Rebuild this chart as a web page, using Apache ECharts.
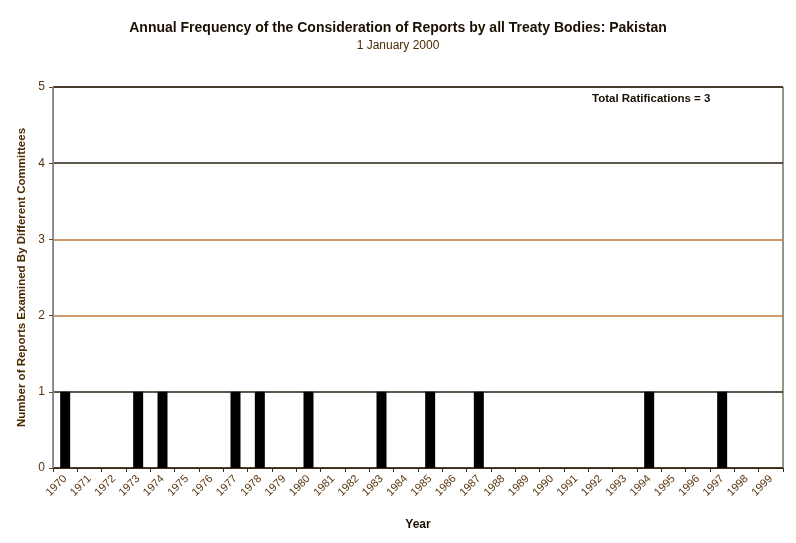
<!DOCTYPE html>
<html>
<head>
<meta charset="utf-8">
<script src="https://cdn.jsdelivr.net/npm/echarts@6/dist/echarts.min.js"></script>
<style>
html,body{margin:0;padding:0;background:#fff;}
#chart{width:796px;height:543px;}
</style>
</head>
<body>
<div id="chart"></div>
<script>
const years = ['1970','1971','1972','1973','1974','1975','1976','1977','1978','1979',
  '1980','1981','1982','1983','1984','1985','1986','1987','1988','1989',
  '1990','1991','1992','1993','1994','1995','1996','1997','1998','1999'];
const reports = [1,0,0,1,1,0,0,1,1,0,
  1,0,0,1,0,1,0,1,0,0,
  0,0,0,0,1,0,0,1,0,0];
const titleText = 'Annual Frequency of the Consideration of Reports by all Treaty Bodies: Pakistan';
const subtitleText = '1 January 2000';
const noteText = 'Total Ratifications = 3';
const yName = 'Number of Reports Examined By Different Committees';
const xName = 'Year';

const chart = echarts.init(document.getElementById('chart'));
const font = 'Arial, "Liberation Sans", sans-serif';
const dark = '#2a2010';
const tan = '#c0783a';
chart.setOption({
  animation: false,
  backgroundColor: '#ffffff',
  title: {
    text: titleText,
    subtext: subtitleText,
    left: 'center',
    top: 16,
    itemGap: 5,
    textStyle: {fontFamily: font, fontSize: 14, fontWeight: 'bold', color: '#1a0f00'},
    subtextStyle: {fontFamily: font, fontSize: 12, color: '#4a2a00'}
  },
  graphic: [{
    type: 'text',
    left: 592,
    top: 93,
    style: {text: noteText, fontFamily: font, fontSize: 11.5, fontWeight: 'bold', fill: '#1a0f00'}
  }],
  grid: {left: 53, right: 13, top: 87, bottom: 75, show: true, borderColor: '#3a2a10', borderWidth: 1},
  xAxis: {
    type: 'category',
    data: years,
    name: xName,
    nameLocation: 'middle',
    nameGap: 51,
    nameTextStyle: {fontFamily: font, fontSize: 12, fontWeight: 'bold', color: '#1a0f00'},
    axisLine: {lineStyle: {color: '#3a2a10'}},
    axisTick: {show: true, length: 4, lineStyle: {color: '#3a2a10'}},
    axisLabel: {rotate: 45, interval: 0, fontFamily: font, fontSize: 11, color: '#5a3510', margin: 9},
    splitLine: {show: false}
  },
  yAxis: {
    type: 'value',
    min: 0, max: 5, interval: 1,
    name: yName,
    nameLocation: 'middle',
    nameGap: 25,
    nameTextStyle: {fontFamily: font, fontSize: 11.5, fontWeight: 'bold', color: '#4a2a00'},
    axisLine: {show: true, lineStyle: {color: '#8080b0'}},
    axisTick: {show: true, length: 4, lineStyle: {color: '#6a4a20'}},
    axisLabel: {fontFamily: font, fontSize: 12, color: '#5a3510', margin: 8},
    splitLine: {show: true, lineStyle: {color: [dark, dark, tan, tan, dark, dark], width: 1.5}}
  },
  series: [{
    type: 'bar',
    data: reports,
    barWidth: 10,
    itemStyle: {color: '#000000'}
  }]
});
</script>
</body>
</html>
